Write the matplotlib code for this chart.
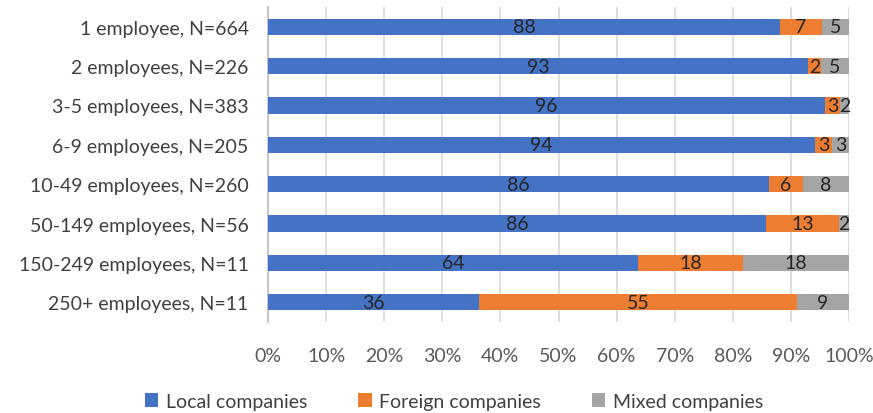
import numpy as np
import matplotlib
matplotlib.use("Agg")
import matplotlib.pyplot as plt
from matplotlib.ticker import PercentFormatter

categories = ["1 employee, N=664", "2 employees, N=226", "3-5 employees, N=383",
              "6-9 employees, N=205", "10-49 employees, N=260", "50-149 employees, N=56",
              "150-249 employees, N=11", "250+ employees, N=11"]
local = [88.1, 93.0, 95.8, 94.2, 86.2, 85.7, 63.6, 36.4]
foreign = [7.2, 2.1, 2.7, 2.9, 5.8, 12.6, 18.2, 54.6]
mixed = [4.7, 4.9, 1.5, 2.9, 8.0, 1.7, 18.2, 9.0]
series_names = ["Local companies", "Foreign companies", "Mixed companies"]
colors = ["#4472C4", "#ED7D31", "#A5A5A5"]

plt.rcParams['font.family'] = ['Lato', 'DejaVu Sans']
fs = 14

fig = plt.figure(figsize=(8.73, 4.14), dpi=100)
ax = fig.add_axes([268/873, 1-323/414, 581/873, 315/414])

y = np.arange(len(categories))
left = np.zeros(len(categories))
for vals, name, col in zip([local, foreign, mixed], series_names, colors):
    vals = np.array(vals)
    bars = ax.barh(y, vals, left=left, height=0.41, color=col, label=name, zorder=3)
    ax.bar_label(bars, labels=[f"{v:.0f}" for v in vals], label_type='center',
                 fontsize=fs, color='#262626')
    left = left + vals

ax.set_xlim(0, 100)
ax.set_ylim(len(categories) - 0.5, -0.5)
ax.set_yticks(y)
ax.set_yticklabels(categories, fontsize=fs, color='#404040')
ax.set_xticks(np.arange(0, 101, 10))
ax.xaxis.set_major_formatter(PercentFormatter(decimals=0))
ax.tick_params(axis='x', labelsize=fs, labelcolor='#595959', length=0, pad=18)
ax.tick_params(axis='y', length=0, pad=14)
ax.grid(axis='x', color='#d9d9d9', linewidth=1.2, zorder=0)
for s in ['top', 'right', 'bottom']:
    ax.spines[s].set_visible(False)
ax.spines['left'].set_color('#bfbfbf')
ax.spines['left'].set_linewidth(1.2)

fig.legend(loc='lower center', bbox_to_anchor=(0.52, -0.035), ncol=3, frameon=False,
           fontsize=fs, handlelength=0.7, handleheight=0.7, columnspacing=2.6,
           handletextpad=0.4, labelcolor='#404040')

fig.savefig("out.png", dpi=100)
